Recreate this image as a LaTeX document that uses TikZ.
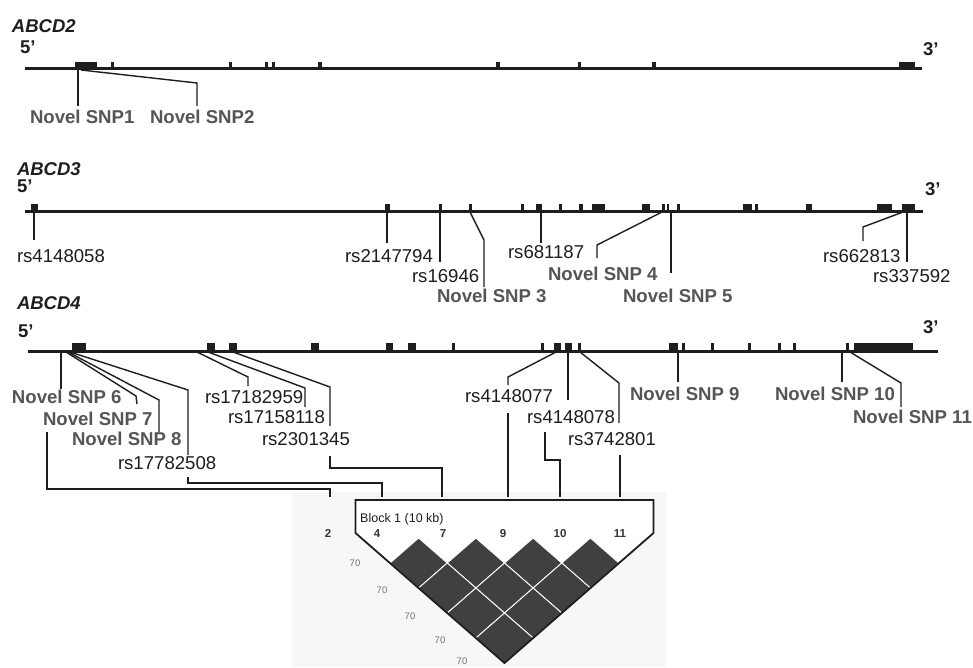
\documentclass[tikz,border=0pt]{standalone}
\usepackage{fontspec}
\setmainfont{Liberation Sans}
\definecolor{ink}{HTML}{1E1E1E}
\definecolor{novgray}{HTML}{555555}
\definecolor{ldfill}{HTML}{404040}
\definecolor{speck}{HTML}{F7F7F7}
\begin{document}
\begin{tikzpicture}[x=1pt,y=-1pt,
  gene/.style={line width=3pt,draw=ink},
  exon/.style={fill=ink},
  conn/.style={line width=1.4pt,draw=ink,line join=miter},
  lab/.style={inner sep=0pt,outer sep=0pt,anchor=base west,font=\fontsize{18.6}{20}\selectfont},
  rslab/.style={lab,text=ink},
  novlab/.style={lab,text=novgray,font=\fontsize{18.6}{20}\selectfont\bfseries},
  genelab/.style={lab,text=ink,font=\fontsize{18.5}{20}\selectfont\bfseries\itshape},
  endlab/.style={lab,text=ink,font=\fontsize{18.5}{20}\selectfont\bfseries},
  ldnum/.style={inner sep=0pt,anchor=base,font=\fontsize{11.5}{12}\selectfont\bfseries,text=black!80},
  ldpct/.style={inner sep=0pt,anchor=center,font=\fontsize{9.5}{10}\selectfont,text=black!55},
]
\useasboundingbox (0,0) rectangle (973,667);
\fill[white] (0,0) rectangle (973,667);

% ---------------- ABCD2 ----------------
\node[genelab] (g2) at (12,32) {ABCD2};
\node[endlab] (g2five) at (20,53) {5’};
\node[endlab] (g2three) at (923,55) {3’};
\draw[gene] (25,68) -- (922,68);
\foreach \a/\b in {75/97,111/114,229/232,265/268,272/275,318/322,496/500,578/581,652/656,899/915}
  \fill[exon] (\a,62) rectangle (\b,70);
\node[novlab] (n1) at (30,123) {Novel SNP1};
\node[novlab] (n2) at (150,123) {Novel SNP2};
\coordinate (n1s) at (78,70);  \coordinate (n1e) at (78,106);
\coordinate (n2s) at (81,70);  \coordinate (n2e) at (197,106);
\draw[conn] (n1s) -- (n1e);
\draw[conn] (n2s) -- (197,83) -- (n2e);

% ---------------- ABCD3 ----------------
\node[genelab] (g3) at (17,175) {ABCD3};
\node[endlab] (g3five) at (17,192) {5’};
\node[endlab] (g3three) at (925,195) {3’};
\draw[gene] (25,211.5) -- (923,211.5);
\foreach \a/\b in {31/38,385/390,439/441.5,469/471.5,521/523.5,536/542,559/561.5,579/583,592/605,642/650,662/664.5,666.5/669,677/679.5,743/752,755/757.5,806/812,877/892,902/915}
  \fill[exon] (\a,204) rectangle (\b,213);
\node[rslab] (r1) at (17,262) {rs4148058};
\node[rslab] (r2) at (345,262) {rs2147794};
\node[rslab] (r3) at (412,282) {rs16946};
\node[novlab] (n3) at (437,302) {Novel SNP 3};
\node[rslab] (r4) at (508,258) {rs681187};
\node[novlab] (n4) at (548,280) {Novel SNP 4};
\node[novlab] (n5) at (623,302) {Novel SNP 5};
\node[rslab] (r5) at (823,262) {rs662813};
\node[rslab] (r6) at (873,282) {rs337592};
\coordinate (r1s) at (34,212);  \coordinate (r1e) at (34,240);
\coordinate (r2s) at (387,212); \coordinate (r2e) at (387,243);
\coordinate (r3s) at (440,212); \coordinate (r3e) at (440,262);
\coordinate (n3s) at (470,212); \coordinate (n3e) at (484,287);
\coordinate (r4s) at (541,212); \coordinate (r4e) at (541,243);
\coordinate (n4s) at (662,212); \coordinate (n4e) at (597,258);
\coordinate (n5s) at (671,212); \coordinate (n5e) at (671,273);
\coordinate (r5s) at (903,212); \coordinate (r5e) at (863,241);
\coordinate (r6s) at (907,212); \coordinate (r6e) at (907,262);
\draw[conn] (r1s) -- (r1e);
\draw[conn] (r2s) -- (r2e);
\draw[conn] (r3s) -- (r3e);
\draw[conn] (n3s) -- (484,240) -- (n3e);
\draw[conn] (r4s) -- (r4e);
\draw[conn] (n4s) -- (597,245) -- (n4e);
\draw[conn] (n5s) -- (n5e);
\draw[conn] (r5s) -- (863,227) -- (r5e);
\draw[conn] (r6s) -- (r6e);

% ---------------- ABCD4 ----------------
\node[genelab] (g4) at (17,309) {ABCD4};
\node[endlab] (g4five) at (18,337) {5’};
\node[endlab] (g4three) at (923,333) {3’};
\draw[gene] (28,351) -- (938,351);
\foreach \a/\b in {72/86,207/215,229/237,311/319,386/393,408/416,452/454.5,541/544,554/561,565/572,578/581,669/678,682/684.5,711/713.5,748/751,778/781,793/795.5,846/848.5,854/913}
  \fill[exon] (\a,343) rectangle (\b,353);
\node[novlab] (n6) at (12,403) {Novel SNP 6};
\node[novlab] (n7) at (43,425) {Novel SNP 7};
\node[novlab] (n8) at (72,445) {Novel SNP 8};
\node[rslab] (r7) at (118,469) {rs17782508};
\node[rslab] (r8) at (205,403) {rs17182959};
\node[rslab] (r9) at (228,423) {rs17158118};
\node[rslab] (r10) at (262,445) {rs2301345};
\node[rslab] (r11) at (465,402) {rs4148077};
\node[rslab] (r12) at (527,423) {rs4148078};
\node[rslab] (r13) at (568,445) {rs3742801};
\node[novlab] (n9) at (630,400) {Novel SNP 9};
\node[novlab] (n10) at (775,400) {Novel SNP 10};
\node[novlab] (n11) at (853,423) {Novel SNP 11};

\coordinate (n6s) at (61,352);  \coordinate (n6e) at (61,389);
\coordinate (n7s) at (66,352);  \coordinate (n7e) at (137,404);
\coordinate (n8s) at (68,352);  \coordinate (n8e) at (159,432);
\coordinate (r7s) at (70,352);  \coordinate (r7e) at (188,455);
\coordinate (r8s) at (197,352); \coordinate (r8e) at (248,386);
\coordinate (r9s) at (208,352); \coordinate (r9e) at (305,407);
\coordinate (r10s) at (233,352); \coordinate (r10e) at (330,426);
\coordinate (r11s) at (556,352); \coordinate (r11e) at (508,385);
\coordinate (r12s) at (568,352); \coordinate (r12e) at (568,400);
\coordinate (r13s) at (580,352); \coordinate (r13e) at (619,423);
\coordinate (n9s) at (678,352);  \coordinate (n9e) at (678,382);
\coordinate (n10s) at (842,352); \coordinate (n10e) at (842,382);
\coordinate (n11s) at (850,352); \coordinate (n11e) at (901,407);
\draw[conn] (n6s) -- (n6e);
\draw[conn] (n7s) -- (136,396) -- (n7e);
\draw[conn] (n8s) -- (159,400) -- (n8e);
\draw[conn] (r7s) -- (188,390) -- (r7e);
\draw[conn] (r8s) -- (248,377) -- (r8e);
\draw[conn] (r9s) -- (305,388) -- (r9e);
\draw[conn] (r10s) -- (330,387) -- (r10e);
\draw[conn] (r11s) -- (508,377) -- (r11e);
\draw[conn] (r12s) -- (r12e);
\draw[conn] (r13s) -- (619,383) -- (r13e);
\draw[conn] (n9s) -- (n9e);
\draw[conn] (n10s) -- (n10e);
\draw[conn] (n11s) -- (901,383) -- (n11e);

% ---------------- LD plot ----------------
\fill[speck] (292,492) rectangle (666,667);
\coordinate (m2) at (330,497);
\coordinate (m4) at (382,497);
\coordinate (m7) at (442,497);
\coordinate (m9) at (508,497);
\coordinate (m10) at (560,497);
\coordinate (m11) at (620,497);
\draw[conn] (47,432) -- (47,489) -- (330,489) -- (m2);
\draw[conn] (188,477) -- (188,483) -- (382,483) -- (m4);
\draw[conn] (330,456) -- (330,468) -- (442,468) -- (m7);
\draw[conn] (508,413) -- (m9);
\draw[conn] (545,432) -- (545,460) -- (560,460) -- (m10);
\draw[conn] (620,455) -- (m11);

\fill[white] (355.5,500) -- (653.5,500) -- (653.5,533) -- (504.5,663) -- (355.5,533) -- cycle;
\foreach \r in {0,...,3} {
  \pgfmathtruncatemacro{\kmax}{3-\r}
  \foreach \k in {0,...,\kmax} {
    \pgfmathsetmacro{\cx}{390+28.625*(2*\k+\r+1)}
    \pgfmathsetmacro{\cy}{563+25*\r}
    \filldraw[fill=ldfill,draw=white,line width=0.9pt] (\cx,\cy-25) -- (\cx+28.625,\cy) -- (\cx,\cy+25) -- (\cx-28.625,\cy) -- cycle;
  }
}
\draw[line width=1.8pt,draw=ink,line join=miter] (355.5,500) -- (653.5,500) -- (653.5,533) -- (504.5,663) -- (355.5,533) -- cycle;

\node[inner sep=0pt,anchor=base west,font=\fontsize{12.5}{13}\selectfont,text=ink] (blk) at (360,522) {Block 1 (10 kb)};
\node[ldnum] (k2) at (328,537) {2};
\node[ldnum] (k4) at (377,537) {4};
\node[ldnum] (k7) at (443,537) {7};
\node[ldnum] (k9) at (503,537) {9};
\node[ldnum] (k10) at (560,537) {10};
\node[ldnum] (k11) at (620,537) {11};
\node[ldpct] (p1) at (355,563) {70};
\node[ldpct] (p2) at (382,590) {70};
\node[ldpct] (p3) at (410,616) {70};
\node[ldpct] (p4) at (440,640) {70};
\node[ldpct] (p5) at (462,661) {70};
\end{tikzpicture}
\end{document}
